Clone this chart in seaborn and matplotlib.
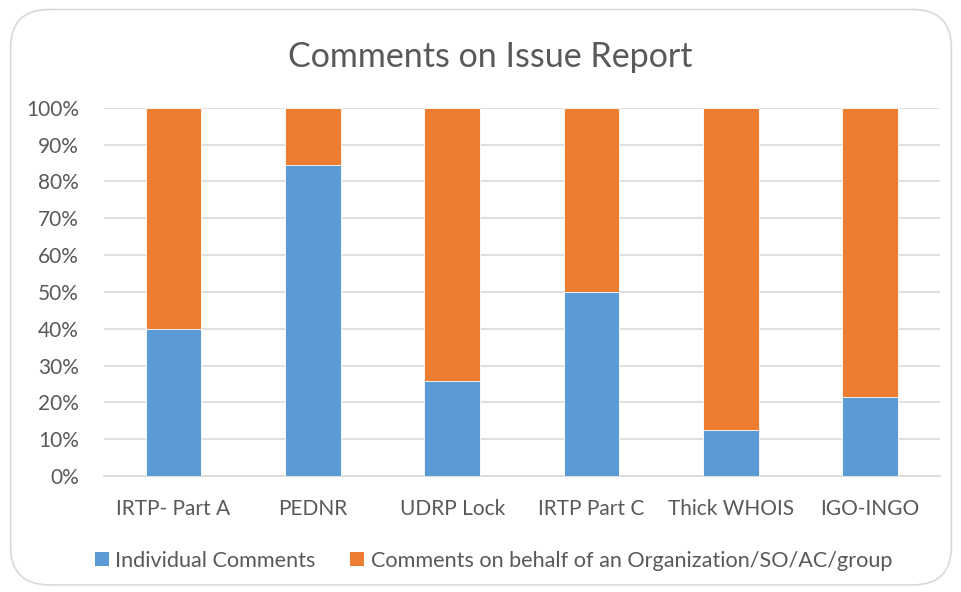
import matplotlib
matplotlib.use("Agg")
import matplotlib.pyplot as plt
from matplotlib.patches import FancyBboxPatch, Patch
import seaborn as sns
import pandas as pd

categories = ["IRTP- Part A", "PEDNR", "UDRP Lock", "IRTP Part C", "Thick WHOIS", "IGO-INGO"]
individual = [40.0, 84.5, 25.8, 50.0, 12.5, 21.5]
organization = [100 - v for v in individual]
series_names = ["Individual Comments", "Comments on behalf of an Organization/SO/AC/group"]
yticks = [0, 10, 20, 30, 40, 50, 60, 70, 80, 90, 100]

BLUE = "#5B9BD5"
ORANGE = "#ED7D31"
TXT = "#595959"
GRID = "#D9D9D9"

sns.set_theme(style="white")
plt.rcParams["font.family"] = ["Lato", "DejaVu Sans"]

df = pd.DataFrame({"cat": categories, "ind": individual,
                   "total": [a + b for a, b in zip(individual, organization)]})

fig = plt.figure(figsize=(9.62, 5.92), dpi=100, facecolor="white")
border = FancyBboxPatch((0.011, 0.012), 0.978, 0.972, boxstyle="round,pad=0,rounding_size=0.04",
                        transform=fig.transFigure, facecolor="none", edgecolor=GRID, linewidth=1.2,
                        mutation_aspect=962/592, zorder=-1)
fig.patches.append(border)

ax = fig.add_axes([0.108, 0.196, 0.869, 0.622])
ax.set_facecolor("none")
sns.barplot(data=df, x="cat", y="total", color=ORANGE, width=0.4, saturation=1, ax=ax, zorder=2)
sns.barplot(data=df, x="cat", y="ind", color=BLUE, width=0.4, saturation=1, ax=ax, zorder=3)
for p in ax.patches:
    p.set_edgecolor("white")
    p.set_linewidth(0.6)

ax.set_ylim(0, 100)
ax.set_xlim(-0.5, len(categories) - 0.5)
ax.set_yticks(yticks)
ax.set_yticklabels([f"{t}%" for t in yticks])
ax.yaxis.grid(True, color=GRID, linewidth=1.2, zorder=0)
ax.set_axisbelow(True)
for s in ["top", "right", "left"]:
    ax.spines[s].set_visible(False)
ax.spines["bottom"].set_color(GRID)
ax.spines["bottom"].set_linewidth(1.2)
ax.tick_params(axis="both", length=0, labelsize=15, colors=TXT)
ax.tick_params(axis="x", pad=16.5)
ax.tick_params(axis="y", pad=18)
ax.set_xlabel("")
ax.set_ylabel("")

fig.text(0.51, 0.904, "Comments on Issue Report", ha="center", va="center", fontsize=24.5, color=TXT)

handles = [Patch(facecolor=BLUE, edgecolor="none"), Patch(facecolor=ORANGE, edgecolor="none")]
fig.legend(handles, series_names, loc="center", bbox_to_anchor=(0.513, 0.053), ncol=2, frameon=False,
           fontsize=15.6, labelcolor=TXT, handlelength=0.65, handleheight=0.65, handletextpad=0.3,
           columnspacing=1.6)

fig.savefig("out.png", dpi=100)
